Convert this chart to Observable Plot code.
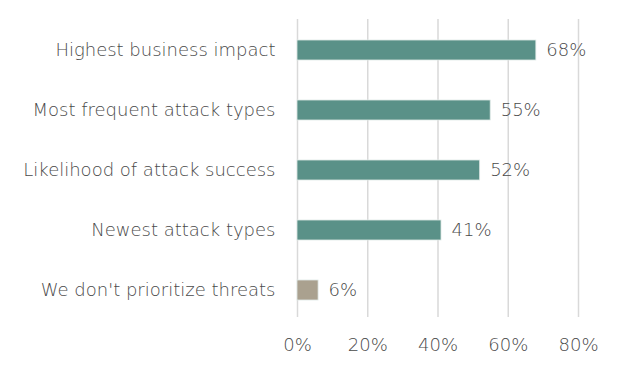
<!DOCTYPE html>
<html>
<head>
<meta charset="utf-8">
<script src="https://cdn.jsdelivr.net/npm/d3@7"></script>
<script src="https://cdn.jsdelivr.net/npm/@observablehq/plot@0.6"></script>
<style>
  html, body { margin: 0; padding: 0; background: #fff; }
  svg { font-family: "DejaVu Sans", sans-serif; }
</style>
</head>
<body>
<div id="chart"></div>
<script>
const categories = ["Highest business impact", "Most frequent attack types", "Likelihood of attack success", "Newest attack types", "We don't prioritize threats"];
const values = [68, 55, 52, 41, 6];
const groups = ["main", "main", "main", "main", "none"];
const xTicks = [0, 20, 40, 60, 80];

const data = categories.map((c, i) => ({category: c, value: values[i], group: groups[i]}));

const chart = Plot.plot({
  width: 618,
  height: 368,
  marginLeft: 297,
  marginRight: 40,
  marginTop: 19,
  marginBottom: 48,
  style: {fontSize: "18px", fontWeight: 300, color: "#4a4a4a", background: "#fff"},
  x: {domain: [0, 80], ticks: xTicks, tickFormat: d => d + "%", tickSize: 0, tickPadding: 18, label: null},
  y: {domain: categories, paddingInner: 0.667, paddingOuter: 0.333, label: null, tickSize: 0, tickPadding: 22},
  color: {domain: ["main", "none"], range: ["#5a9188", "#aaa18f"]},
  marks: [
    Plot.ruleX(xTicks, {stroke: "#d9d9d9", strokeWidth: 1.5, insetBottom: 3}),
    Plot.barX(data, {x: "value", y: "category", fill: "group", stroke: "#dfe9e6", strokeWidth: 0.8}),
    Plot.text(data, {x: "value", y: "category", text: d => d.value + "%", textAnchor: "start", dx: 10, fill: "#4a4a4a", fontSize: 18})
  ]
});
document.getElementById("chart").appendChild(chart);
</script>
</body>
</html>
